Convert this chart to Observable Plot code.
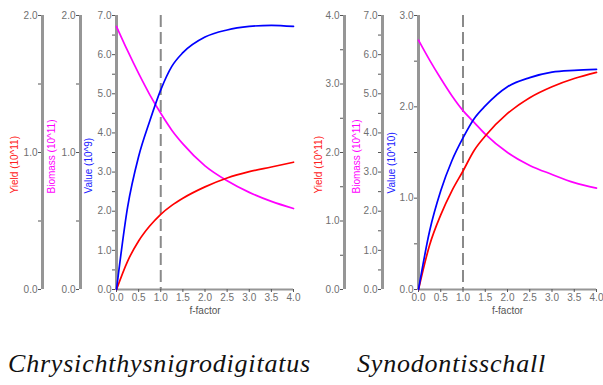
<!DOCTYPE html>
<html><head><meta charset="utf-8">
<script src="https://cdn.jsdelivr.net/npm/d3@7"></script>
<script src="https://cdn.jsdelivr.net/npm/@observablehq/plot@0.6"></script>
<style>
body{margin:0;background:#fff;}
#wrap{position:relative;width:603px;height:385px;overflow:hidden;font-family:"Liberation Sans",Arial,sans-serif;}
.panel{position:absolute;top:0;}
.cap{position:absolute;top:349px;font-family:"Liberation Serif","DejaVu Serif","Times New Roman",serif;font-style:italic;font-size:26px;letter-spacing:0.8px;color:#111;white-space:nowrap;line-height:30px;}
</style></head><body>
<div id="wrap">
  <div id="p1" class="panel" style="left:0px"></div>
  <div id="p2" class="panel" style="left:300px"></div>
  <div class="cap" id="c1" style="left:8px"></div>
  <div class="cap" id="c2" style="left:357px"></div>
</div>
<script>
// ---- data ----
const species = ["Chrysichthysnigrodigitatus", "Synodontisschall"];
const fFactor = [0, 0.25, 0.5, 0.75, 1, 1.25, 1.5, 2, 2.5, 3, 3.5, 4];
const fRef = 1.0;

// Panel 1 : Chrysichthys nigrodigitatus
const yield1   = [0, 0.206, 0.354, 0.463, 0.549, 0.614, 0.666, 0.749, 0.814, 0.860, 0.894, 0.929]; // 10^11
const biomass1 = [1.92, 1.743, 1.577, 1.423, 1.286, 1.163, 1.063, 0.903, 0.794, 0.709, 0.643, 0.591]; // 10^11
const value1   = [0, 2.1, 3.4, 4.3, 5.1, 5.7, 6.05, 6.45, 6.63, 6.72, 6.75, 6.72]; // 10^9

// Panel 2 : Synodontis schall
const yield2   = [0, 0.65, 1.09, 1.44, 1.73, 2.03, 2.24, 2.57, 2.80, 2.96, 3.08, 3.17]; // 10^11
const biomass2 = [6.37, 5.86, 5.39, 4.95, 4.57, 4.27, 3.97, 3.50, 3.17, 2.94, 2.73, 2.59]; // 10^11
const value2   = [0, 0.64, 1.08, 1.41, 1.66, 1.87, 2.01, 2.22, 2.32, 2.38, 2.40, 2.41]; // 10^10

const axisMax1 = {yield: 2, biomass: 2, value: 7};
const axisMax2 = {yield: 4, biomass: 7, value: 3};
const labels1 = {yield: "Yield (10^11)", biomass: "Biomass (10^11)", value: "Value (10^9)"};
const labels2 = {yield: "Yield (10^11)", biomass: "Biomass (10^11)", value: "Value (10^10)"};
const xTicks = [0, 0.5, 1, 1.5, 2, 2.5, 3, 3.5, 4];

function panel(el, cfg) {
  const kY = cfg.max.value / cfg.max.yield;
  const kB = cfg.max.value / cfg.max.biomass;
  const rows = fFactor.map((f, i) => ({f, value: cfg.value[i], yld: cfg.yield[i], bio: cfg.biomass[i]}));
  const steps = (max) => d3.range(0, max + 0.001, 0.5);
  const fmt = (k) => d => { const v = Math.round(d / k * 100) / 100; return Number.isInteger(v) ? v.toFixed(1) : ""; };
  const axisStyle = {anchor: "left", tickSize: 3, tickPadding: 1, fontSize: 10, fill: "#6f6f6f", stroke: "#555", label: null};
  const marks = [];
  const axes = [
    {dx: cfg.axisDx[0], k: kY, max: cfg.max.yield, label: cfg.labels.yield, color: "#ff2020", ldx: cfg.labelDx[0]},
    {dx: cfg.axisDx[1], k: kB, max: cfg.max.biomass, label: cfg.labels.biomass, color: "#ff00ff", ldx: cfg.labelDx[1]},
    {dx: 0, k: 1, max: cfg.max.value, label: cfg.labels.value, color: "#2020ff", ldx: cfg.labelDx[2]}
  ];
  for (const ax of axes) {
    marks.push(Plot.ruleX([0], {dx: ax.dx, stroke: "#969696", strokeWidth: 3}));
    marks.push(Plot.axisY({...axisStyle, dx: ax.dx - 1, ticks: steps(ax.max).map(v => v * ax.k), tickFormat: fmt(ax.k)}));
    marks.push(Plot.text([ax.label], {text: d => d, frameAnchor: "bottom-left", dx: ax.ldx, dy: -96, rotate: -90,
      textAnchor: "start", fill: ax.color, fontSize: 10}));
  }
  marks.push(Plot.ruleY([0], {stroke: "#969696", strokeWidth: 2}));
  marks.push(Plot.axisX({ticks: xTicks, tickFormat: d3.format(".1f"), tickSize: 3, tickPadding: 1, fontSize: 10,
    fill: "#6f6f6f", stroke: "#555", label: null}));
  marks.push(Plot.text(["f-factor"], {text: d => d, frameAnchor: "bottom", dy: 24, fill: "#555", fontSize: 10}));
  marks.push(Plot.ruleX([fRef], {stroke: "#8a8a8a", strokeWidth: 2, strokeDasharray: "12,5"}));
  marks.push(Plot.line(rows, {x: "f", y: d => d.bio * kB, stroke: "#ff00ff", strokeWidth: 1.7, curve: "monotone-x"}));
  marks.push(Plot.line(rows, {x: "f", y: d => d.yld * kY, stroke: "#ff0000", strokeWidth: 1.7, curve: "monotone-x"}));
  marks.push(Plot.line(rows, {x: "f", y: "value", stroke: "#0000ff", strokeWidth: 1.7, curve: "monotone-x"}));

  const chart = Plot.plot({
    width: cfg.width, height: 320,
    marginLeft: cfg.marginLeft, marginRight: 7, marginTop: 15, marginBottom: 31,
    x: {domain: [0, 4]},
    y: {domain: [0, cfg.max.value]},
    style: {fontFamily: "Liberation Sans, Arial, sans-serif", background: "transparent", overflow: "visible"},
    marks
  });
  document.getElementById(el).appendChild(chart);
}

panel("p1", {width: 300, marginLeft: 116, yield: yield1, biomass: biomass1, value: value1, max: axisMax1,
  labels: labels1, axisDx: [-74, -36], labelDx: [-99, -62, -25]});
panel("p2", {width: 303, marginLeft: 118, yield: yield2, biomass: biomass2, value: value2, max: axisMax2,
  labels: labels2, axisDx: [-74, -36], labelDx: [-97, -59, -24]});

document.getElementById("c1").textContent = species[0];
document.getElementById("c2").textContent = species[1];
</script>
</body></html>
